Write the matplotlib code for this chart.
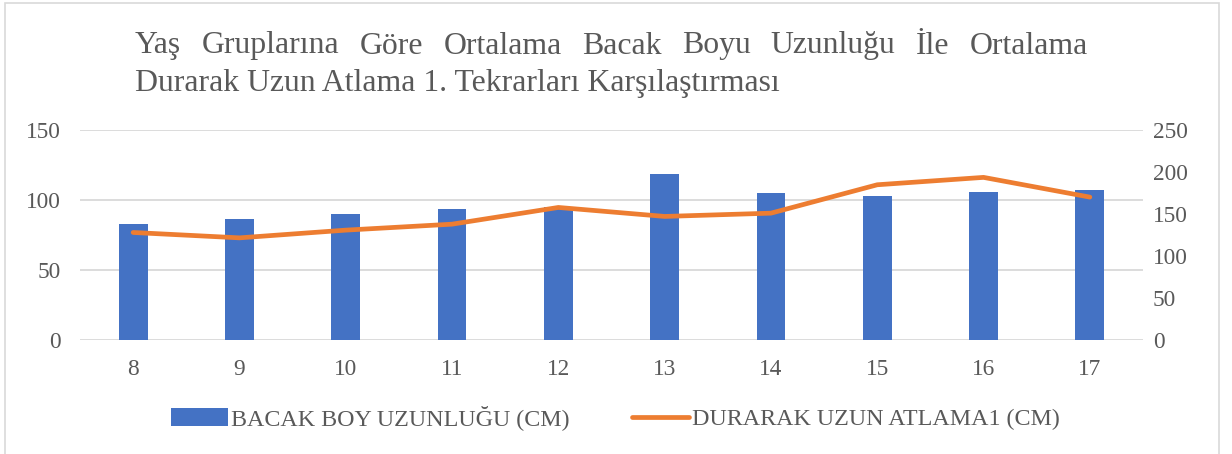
import matplotlib
matplotlib.use("Agg")
from matplotlib import pyplot as plt
from matplotlib.patches import Rectangle, Patch
from matplotlib.lines import Line2D

# data
ages = ["8", "9", "10", "11", "12", "13", "14", "15", "16", "17"]
leg_length = [82.8, 86.1, 89.7, 93.3, 95.0, 118.5, 104.7, 103.0, 105.9, 107.3]
long_jump = [128.0, 121.6, 130.8, 137.9, 157.8, 147.1, 151.0, 184.8, 193.6, 170.1]

title_lines = ["Yaş Gruplarına Göre Ortalama Bacak Boyu Uzunluğu İle Ortalama",
               "Durarak Uzun Atlama 1. Tekrarları Karşılaştırması"]
bar_label = "BACAK BOY UZUNLUĞU (CM)"
line_label = "DURARAK UZUN ATLAMA1 (CM)"

BLUE = "#4472C4"
ORANGE = "#ED7D31"
GRID = "#D9D9D9"
TEXT = "#595959"
W, H = 1232, 454

plt.rcParams["font.family"] = ["Liberation Serif", "DejaVu Serif"]

fig = plt.figure(figsize=(W / 100, H / 100), dpi=100)
fig.patch.set_facecolor("white")

# chart border
fig.add_artist(Rectangle((5 / W, -0.05), (1219 - 5) / W, 1.05 - 3 / H,
                         transform=fig.transFigure, fill=False,
                         edgecolor=GRID, linewidth=1.2))

ax = fig.add_axes([80 / W, (H - 340) / H, (1143 - 80) / W, 210 / H])
ax2 = ax.twinx()

x = list(range(len(ages)))
ax.bar(x, leg_length, width=0.27, color=BLUE, zorder=2)
ax2.plot(x, long_jump, color=ORANGE, linewidth=3.4,
         solid_capstyle="round", solid_joinstyle="round")

ax.set_xlim(-0.5, len(ages) - 0.5)
ax.set_ylim(0, 150)
ax.set_yticks([0, 50, 100, 150])
ax2.set_ylim(0, 250)
ax2.set_yticks([0, 50, 100, 150, 200, 250])
ax.set_xticks(x)
ax.set_xticklabels(ages)

ax.set_axisbelow(True)
ax.grid(axis="y", color=GRID, linewidth=1.3, zorder=0)
for a in (ax, ax2):
    for s in a.spines.values():
        s.set_visible(False)
    a.tick_params(length=0, labelsize=16.8, labelcolor=TEXT)
ax.tick_params(axis="y", pad=14)
ax.tick_params(axis="x", pad=14)
ax2.tick_params(axis="y", pad=7)

# title, first line justified between two edges
fig.canvas.draw()
renderer = fig.canvas.get_renderer()
tsize = 22.9
left_px, right_px = 135, 1088
y1, y2 = H - 46, H - 83
words = title_lines[0].split(" ")
texts = [fig.text(0, y1 / H, w, fontsize=tsize, color=TEXT, va="center", ha="left")
         for w in words]
widths = [t.get_window_extent(renderer).width for t in texts]
gap = (right_px - left_px - sum(widths)) / (len(words) - 1)
pos = left_px
for t, w in zip(texts, widths):
    t.set_x(pos / W)
    pos += w + gap
fig.text(left_px / W, y2 / H, title_lines[1], fontsize=tsize, color=TEXT,
         va="center", ha="left")

handles = [Patch(facecolor=BLUE, edgecolor="none"),
           Line2D([0], [0], color=ORANGE, linewidth=3.4, solid_capstyle="round")]
fig.legend(handles, [bar_label, line_label], loc="center", ncol=2,
           bbox_to_anchor=(615 / W, 1 - 418 / H), frameon=False,
           fontsize=17.3, labelcolor=TEXT, handlelength=2.4, handleheight=0.75,
           handletextpad=0.1, columnspacing=2.6)

fig.savefig("out.png", dpi=100)
plt.close(fig)
